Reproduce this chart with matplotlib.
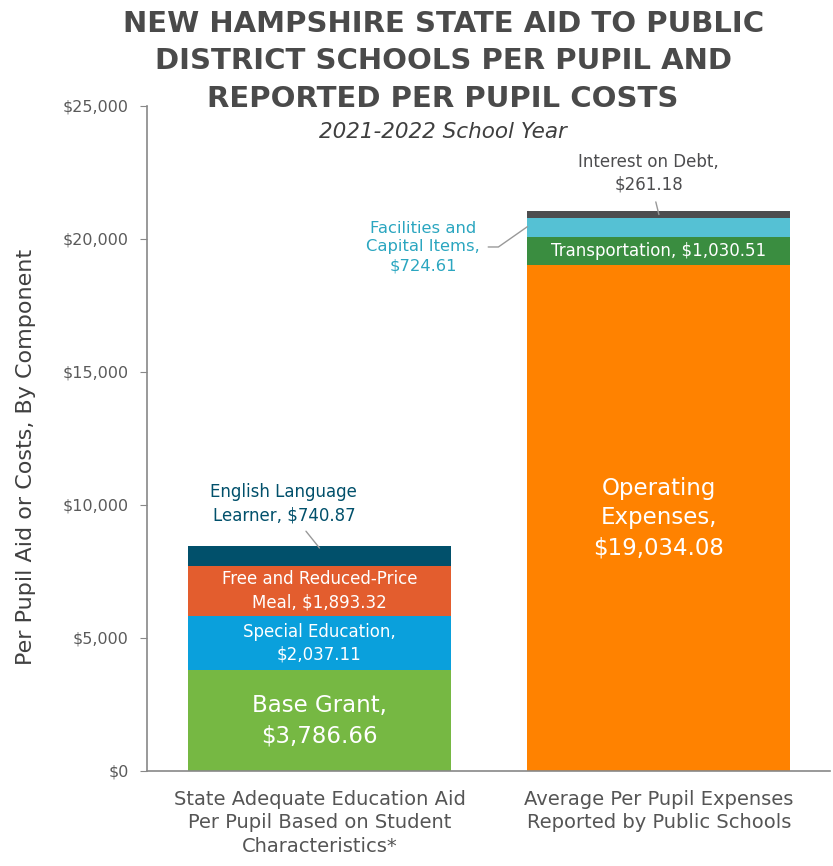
import matplotlib
matplotlib.use("Agg")
import matplotlib.pyplot as plt
import numpy as np

plt.rcParams['font.family'] = ['DejaVu Sans']

categories = ["State Adequate Education Aid\nPer Pupil Based on Student\nCharacteristics*",
              "Average Per Pupil Expenses\nReported by Public Schools"]

aid_labels = ["Base Grant", "Special Education", "Free and Reduced-Price Meal", "English Language Learner"]
aid_values = [3786.66, 2037.11, 1893.32, 740.87]
aid_colors = ["#76B843", "#0AA0DC", "#E35D2E", "#01506B"]

cost_labels = ["Operating Expenses", "Transportation", "Facilities and Capital Items", "Interest on Debt"]
cost_values = [19034.08, 1030.51, 724.61, 261.18]
cost_colors = ["#FF8200", "#3A8D40", "#55C1D4", "#4D4D4F"]

yticks = [0, 5000, 10000, 15000, 20000, 25000]

fig = plt.figure(figsize=(8.33, 8.66), dpi=100)
ax = fig.add_axes([0.1765, 0.1097, 0.8199, 0.7679])

w = 0.775
x = np.arange(len(categories))
bottom = 0.0
for v, c in zip(aid_values, aid_colors):
    ax.bar(x[0], v, w, bottom=bottom, color=c, linewidth=0)
    bottom += v
bottom = 0.0
for v, c in zip(cost_values, cost_colors):
    ax.bar(x[1], v, w, bottom=bottom, color=c, linewidth=0)
    bottom += v

def fmt(v):
    return "${:,.2f}".format(v)

aid_cum = np.cumsum([0] + aid_values)
cost_cum = np.cumsum([0] + cost_values)

# in-bar labels
ax.text(x[0], aid_cum[0] + aid_values[0] / 2, "Base Grant,\n" + fmt(aid_values[0]),
        ha='center', va='center', color='white', fontsize=16.5, linespacing=1.4)
ax.text(x[0], aid_cum[1] + aid_values[1] / 2, "Special Education,\n" + fmt(aid_values[1]),
        ha='center', va='center', color='white', fontsize=12, linespacing=1.35)
ax.text(x[0], aid_cum[2] + aid_values[2] / 2, "Free and Reduced-Price\nMeal, " + fmt(aid_values[2]),
        ha='center', va='center', color='white', fontsize=12, linespacing=1.35)
ax.text(x[1], cost_cum[0] + cost_values[0] / 2, "Operating\nExpenses,\n" + fmt(cost_values[0]),
        ha='center', va='center', color='white', fontsize=16.5, linespacing=1.38)
ax.text(x[1], cost_cum[1] + cost_values[1] / 2, "Transportation, " + fmt(cost_values[1]),
        ha='center', va='center', color='white', fontsize=12)

# callouts
ax.annotate("English Language\nLearner, " + fmt(aid_values[3]),
            xy=(x[0] + 0.0, aid_cum[3] + aid_values[3] * 0.9),
            xytext=(x[0] - 0.105, 10050), ha='center', va='center',
            color="#01506B", fontsize=12, linespacing=1.35,
            arrowprops=dict(arrowstyle='-', color='#999999', lw=1,
                            shrinkA=4, shrinkB=0))
ax.annotate("Facilities and\nCapital Items,\n" + fmt(cost_values[2]),
            xy=(x[1] - w / 2, cost_cum[2] + cost_values[2] * 0.55),
            xytext=(x[1] - 0.695, 19700), ha='center', va='center',
            color="#2BA6C0", fontsize=11.8, linespacing=1.3,
            arrowprops=dict(arrowstyle='-', color='#999999', lw=1,
                            shrinkA=4, shrinkB=0,
                            connectionstyle="angle,angleA=0,angleB=35,rad=0"),
            )
ax.annotate("Interest on Debt,\n" + fmt(cost_values[3]),
            xy=(x[1] - 0.0, cost_cum[3] + cost_values[3] * 0.5),
            xytext=(x[1] - 0.03, 22470), ha='center', va='center',
            color="#4D4D4F", fontsize=12, linespacing=1.35,
            arrowprops=dict(arrowstyle='-', color='#999999', lw=1,
                            shrinkA=4, shrinkB=0))

ax.set_xlim(-0.508, 1.504)
ax.set_ylim(0, 25000)
ax.set_yticks(yticks)
ax.set_yticklabels(["${:,}".format(t) for t in yticks], color="#5A5A5A", fontsize=11.5)
ax.set_xticks(x)
ax.set_xticklabels(categories, color="#555555", fontsize=14, linespacing=1.27)
ax.tick_params(axis='x', length=0, pad=14)
ax.tick_params(axis='y', length=5, color='#888888', pad=8, direction='out')
for s in ['top', 'right']:
    ax.spines[s].set_visible(False)
for s in ['left', 'bottom']:
    ax.spines[s].set_color('#888888')
    ax.spines[s].set_linewidth(1.2)

ax.set_ylabel("Per Pupil Aid or Costs, By Component", fontsize=16, color="#404040")
ax.yaxis.set_label_coords(-0.162, 0.472)

fig.text(0.532, 0.929, "NEW HAMPSHIRE STATE AID TO PUBLIC\nDISTRICT SCHOOLS PER PUPIL AND\nREPORTED PER PUPIL COSTS",
         ha='center', va='center', fontsize=21, fontweight='bold', color="#4A4A4A", linespacing=1.42)
fig.text(0.532, 0.847, "2021-2022 School Year", ha='center', va='center', fontsize=15.5,
         style='italic', color="#3F3F3F")

fig.savefig("out.png", dpi=100)
